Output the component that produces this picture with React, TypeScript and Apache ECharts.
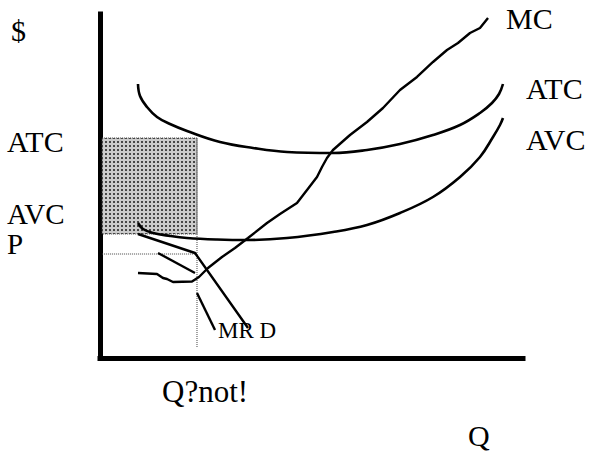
import React, { useEffect, useRef } from "react";
import * as echarts from "echarts";

// Quantity (0-100) vs $ (0-100)
const atcCurve: [number, number][] = [
  [8.98, 79.65], [9.46, 76.16], [11.11, 72.97], [13.48, 70.06], [16.55, 68.02],
  [20.57, 65.99], [28.37, 62.79], [36.17, 61.05], [44.21, 59.88], [55.08, 59.59],
  [63.12, 60.47], [70.92, 62.21], [78.72, 64.83], [85.11, 67.73], [89.83, 71.22],
  [92.67, 74.13], [94.33, 76.74], [95.27, 79.65],
];
const avcCurve: [number, number][] = [
  [8.98, 39.24], [10.17, 37.5], [12.53, 36.34], [16.55, 35.47], [20.57, 34.88],
  [27.66, 34.45], [34.75, 34.3], [44.21, 34.88], [55.08, 36.63], [63.12, 38.66],
  [70.92, 42.15], [78.72, 46.8], [85.11, 52.62], [89.83, 58.43], [92.91, 64.24],
  [94.56, 67.73], [95.27, 69.77],
];
const mcCurve: [number, number][] = [
  [8.98, 24.71], [13.48, 24.42], [14.89, 23.26], [15.84, 22.97], [17.26, 22.09],
  [21.75, 22.24], [23.4, 23.55], [25.53, 26.16], [28.84, 29.36], [31.91, 31.98],
  [34.99, 34.88], [39.48, 39.24], [42.55, 41.86], [46.57, 45.06], [48.94, 48.84],
  [51.3, 52.62], [52.48, 55.52], [53.66, 58.14], [55.08, 60.47], [59.1, 64.83],
  [63.12, 68.6], [66.9, 72.67], [70.92, 77.91], [74.94, 81.69], [78.72, 86.05],
  [82.03, 89.53], [84.63, 91.57], [87.47, 94.48], [89.83, 95.93], [91.73, 98.84],
];
const mrUpper: [number, number][] = [[13.71, 30.52], [22.46, 24.71]];
const mrLower: [number, number][] = [[22.93, 18.9], [27.19, 8.14]];
const demandCurve: [number, number][] = [[8.98, 36.05], [22.46, 30.52], [34.99, 8.72]];

const qStar = 22.93;
const atcLevel = 63.95;
const avcLevel = 36.05;
const priceLevel = 30.23;
const qLineBottom = 2.9;

const leftLabels = ["$", "ATC", "AVC", "P"];
const rightLabels = ["MC", "ATC", "AVC"];
const axisLabels = ["Q?not!", "Q"];
const curveNote = "MR D";

const FONT = '"Liberation Serif", "Times New Roman", Times, serif';

export default function App() {
  const ref = useRef<HTMLDivElement>(null);
  useEffect(() => {
    if (!ref.current) return;
    const chart = echarts.init(ref.current, null, { renderer: "svg" });

    const cv = document.createElement("canvas");
    cv.width = 4;
    cv.height = 4;
    const ctx = cv.getContext("2d")!;
    ctx.fillStyle = "#cbcbcb";
    ctx.fillRect(0, 0, 4, 4);
    ctx.fillStyle = "#474747";
    ctx.fillRect(1, 1, 2, 2);
    const pattern: any = { image: cv.toDataURL(), repeat: "repeat", imageWidth: 4, imageHeight: 4 };

    const curve = (data: [number, number][], smooth: boolean | number, width = 2.6) => ({
      type: "line",
      data,
      smooth,
      symbol: "none",
      silent: true,
      lineStyle: { color: "#000", width },
    });
    const dotted = (data: [number, number][]) => ({
      type: "line",
      data,
      symbol: "none",
      silent: true,
      lineStyle: { color: "#444", width: 1, type: "dotted" },
    });

    const txt = (text: string, x: number, y: number, size = 30) => ({
      type: "text",
      x,
      y,
      silent: true,
      style: {
        text,
        font: `${size}px ${FONT}`,
        fill: "#000",
        verticalAlign: "middle",
        align: "left",
        lineHeight: Math.round(size * 0.88),
      },
    });

    chart.setOption({
      animation: false,
      backgroundColor: "#fff",
      grid: { left: 100, top: 14, width: 423, height: 344 },
      xAxis: {
        type: "value", min: 0, max: 100,
        axisLine: { show: true, lineStyle: { color: "#000", width: 5, cap: "square" } },
        axisTick: { show: false }, axisLabel: { show: false }, splitLine: { show: false },
      },
      yAxis: {
        type: "value", min: 0, max: 100,
        axisLine: { show: true, lineStyle: { color: "#000", width: 5, cap: "square" } },
        axisTick: { show: false }, axisLabel: { show: false }, splitLine: { show: false },
      },
      series: [
        {
          ...dotted([[0.5, priceLevel], [qStar, priceLevel]]),
          markArea: {
            silent: true,
            itemStyle: { color: pattern, borderColor: "#444", borderWidth: 1, borderType: "dotted" },
            data: [[{ coord: [0.5, atcLevel] }, { coord: [qStar, avcLevel] }]],
          },
        },
        dotted([[qStar, atcLevel], [qStar, qLineBottom]]),
        curve(atcCurve, 0.4),
        curve(avcCurve, 0.4),
        curve(mcCurve, false, 2.4),
        curve(mrUpper, false, 2.4),
        curve(mrLower, false, 2.4),
        curve(demandCurve, false, 2.4),
      ],
      graphic: [
        txt(leftLabels[0], 11, 30.5),
        txt(leftLabels[1], 7, 141.5),
        txt(leftLabels[2], 7, 213.5, 29),
        txt(leftLabels[3], 7, 244, 29),
        txt(rightLabels[0], 506, 18.5),
        txt(rightLabels[1], 526, 88.5),
        txt(rightLabels[2], 526, 139.5),
        txt(axisLabels[0], 162, 391.5, 31),
        txt(axisLabels[1], 468, 435.5),
        txt(curveNote, 218, 330, 23),
      ],
    });
    return () => chart.dispose();
  }, []);
  return (
    <div
      ref={ref}
      style={{ position: "fixed", left: 0, top: 0, width: 597, height: 455, background: "#fff" }}
    />
  );
}
